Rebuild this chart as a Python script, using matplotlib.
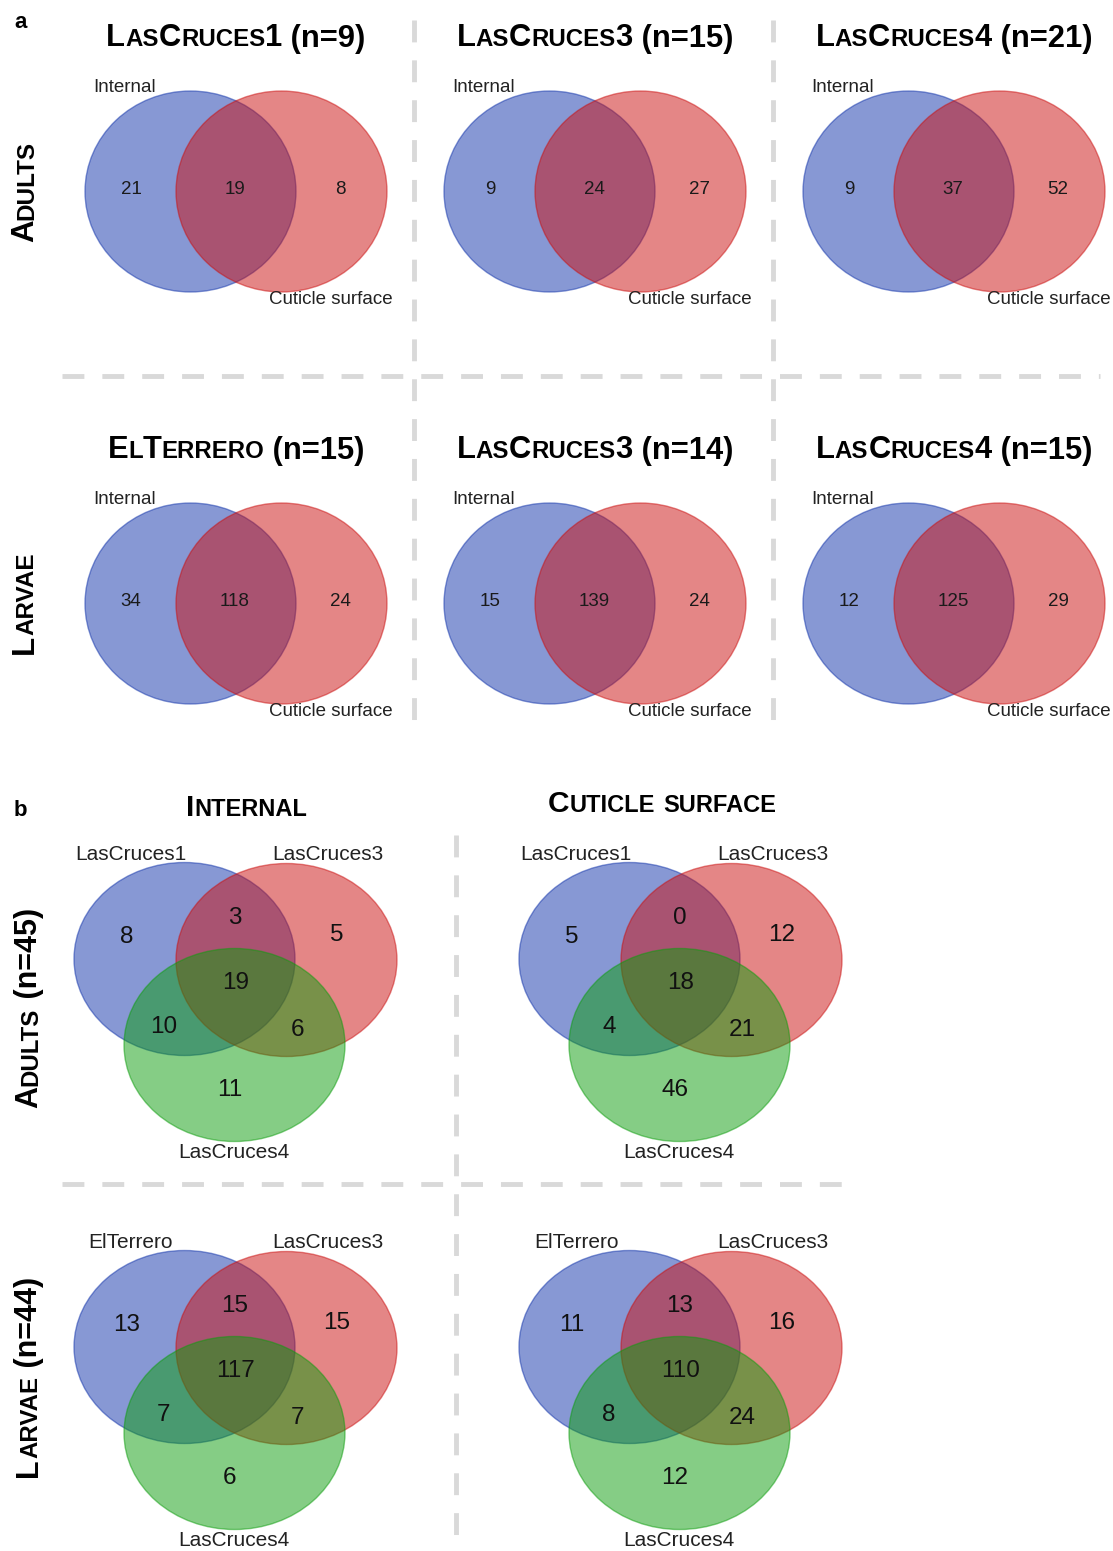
import matplotlib
matplotlib.use("Agg")
import matplotlib.pyplot as plt
from matplotlib.patches import Ellipse

W, H = 1113, 1551
FONT = ["Liberation Sans", "DejaVu Sans"]

# ---- data -------------------------------------------------------------
A_ADULT_SITES = ["LasCruces1", "LasCruces3", "LasCruces4"]
A_ADULT_N = [9, 15, 21]
A_ADULT_COUNTS = [(21, 19, 8), (9, 24, 27), (9, 37, 52)]  # internal only, both, cuticle only

A_LARVAE_SITES = ["ElTerrero", "LasCruces3", "LasCruces4"]
A_LARVAE_N = [15, 14, 15]
A_LARVAE_COUNTS = [(34, 118, 24), (15, 139, 24), (12, 125, 29)]

A_SET_LABELS = ["Internal", "Cuticle surface"]

B_COLUMNS = ["Internal", "Cuticle surface"]
B_ADULT_SETS = ["LasCruces1", "LasCruces3", "LasCruces4"]
B_LARVAE_SETS = ["ElTerrero", "LasCruces3", "LasCruces4"]
B_ADULT_N = 45
B_LARVAE_N = 44
# regions: only1, 1&2, only2, all, 1&3, 2&3, only3
B_ADULT_COUNTS = [(8, 3, 5, 19, 10, 6, 11), (5, 0, 12, 18, 4, 21, 46)]
B_LARVAE_COUNTS = [(13, 15, 15, 117, 7, 7, 6), (11, 13, 16, 110, 8, 24, 12)]

BLUE = "#1133aa"
RED = "#cb0f0f"
GREEN = "#0d9d0d"
SEP = "#d9d9d9"
LABEL = "#222222"

fig = plt.figure(figsize=(W / 100, H / 100), dpi=100)
ax = fig.add_axes([0, 0, 1, 1])
ax.set_xlim(0, W)
ax.set_ylim(H, 0)
ax.axis("off")
renderer = fig.canvas.get_renderer()


def text_width(s, size):
    t = ax.text(0, 0, s, fontsize=size, fontweight="bold", family=FONT)
    w = t.get_window_extent(renderer).width
    t.remove()
    return w


def smallcaps_runs(name, big, small):
    runs = []
    for ch in name:
        size = small if ch.islower() else big
        ch = ch.upper()
        if runs and runs[-1][1] == size:
            runs[-1][0] += ch
        else:
            runs.append([ch, size])
    return runs


def smallcaps(x, y, name, suffix, big, small, vertical=False):
    runs = smallcaps_runs(name, big, small)
    if suffix:
        runs.append([suffix, big])
    widths = [text_width(s, sz) for s, sz in runs]
    total = sum(widths)
    pos = (x - total / 2) if not vertical else (y + total / 2)
    for (s, sz), w in zip(runs, widths):
        if vertical:
            ax.text(x, pos, s, fontsize=sz, fontweight="bold", family=FONT,
                    rotation=90, rotation_mode="anchor", ha="left", va="baseline")
            pos -= w
        else:
            ax.text(pos, y, s, fontsize=sz, fontweight="bold", family=FONT,
                    ha="left", va="baseline")
            pos += w


def ellipse(cx, cy, rx, ry, color, z):
    ax.add_patch(Ellipse((cx, cy), 2 * rx, 2 * ry, facecolor=color, alpha=0.5,
                         edgecolor=color, linewidth=1.0, zorder=z))


def dashed(xs, ys):
    ax.plot(xs, ys, color=SEP, linewidth=3.5, linestyle=(0, (4.5, 3.7)),
            solid_capstyle="butt", zorder=0)


# ---- panel a: two-set venns -------------------------------------------
A_COL_X = [190.5, 549.5, 908.5]
A_ROW_Y = [191.5, 603.5]
A_RX, A_RY, A_DX = 105.5, 100.5, 91

for r, (sites, ns, counts) in enumerate([(A_ADULT_SITES, A_ADULT_N, A_ADULT_COUNTS),
                                         (A_LARVAE_SITES, A_LARVAE_N, A_LARVAE_COUNTS)]):
    cy = A_ROW_Y[r]
    for c in range(3):
        cx = A_COL_X[c]
        ellipse(cx, cy, A_RX, A_RY, BLUE, 2)
        ellipse(cx + A_DX, cy, A_RX, A_RY, RED, 3)
        smallcaps(cx + A_DX / 2, cy - 145, sites[c], f" (n={ns[c]})", 22.2, 17.3)
        for v, dx in zip(counts[c], (-59.5, 44.5, 149.5)):
            ax.text(cx + dx, cy - 2, str(v), fontsize=13.5, family=FONT, color="#1a1a1a",
                    ha="center", va="center", zorder=5)
        ax.text(cx - 65.5, cy - 104.5, A_SET_LABELS[0], fontsize=13.5, family=FONT,
                color=LABEL, ha="center", va="center", zorder=5)
        ax.text(cx + 140.5, cy + 108.5, A_SET_LABELS[1], fontsize=13.5, family=FONT,
                color=LABEL, ha="center", va="center", zorder=5)

smallcaps(33, A_ROW_Y[0], "Adults", "", 22.5, 17.5, vertical=True)
smallcaps(33, A_ROW_Y[1], "Larvae", "", 22.5, 17.5, vertical=True)
ax.text(14, 28, "a", fontsize=16, fontweight="bold", family=FONT, ha="left", va="baseline")

dashed([414, 414], [20, 732])
dashed([773, 773], [20, 732])
dashed([62, 1100], [376, 376])

# ---- panel b: three-set venns -----------------------------------------
B_COL_X = [184.5, 629.5]
B_ROW_Y = [959, 1347]
B_RX, B_RY = 110.5, 96.5
B_OFFS = [(0, 0, BLUE), (102, 1, RED), (50, 86, GREEN)]
B_NUM_POS = [(-57.5, -22), (50.5, -41), (152.5, -24), (51.5, 24),
             (-20.5, 68), (112.5, 71), (45.5, 131)]
B_LABEL_POS = [(-53.5, -105), (143.5, -105), (49.5, 193)]

for r, (sets, counts) in enumerate([(B_ADULT_SETS, B_ADULT_COUNTS),
                                    (B_LARVAE_SETS, B_LARVAE_COUNTS)]):
    cy = B_ROW_Y[r]
    for c in range(2):
        cx = B_COL_X[c]
        for z, (dx, dy, col) in enumerate(B_OFFS):
            ellipse(cx + dx, cy + dy, B_RX, B_RY, col, 2 + z)
        for v, (dx, dy) in zip(counts[c], B_NUM_POS):
            ax.text(cx + dx, cy + dy, str(v), fontsize=17.5, family=FONT, color="#111111",
                    ha="center", va="center", zorder=6)
        for s, (dx, dy) in zip(sets, B_LABEL_POS):
            ax.text(cx + dx, cy + dy, s, fontsize=15, family=FONT, color=LABEL,
                    ha="center", va="center", zorder=6)

smallcaps(247, 816, B_COLUMNS[0], "", 21.5, 17)
smallcaps(662, 812, B_COLUMNS[1], "", 21.5, 17)
smallcaps(37, 1008, "Adults", f" (n={B_ADULT_N})", 22, 17.3, vertical=True)
smallcaps(37, 1377, "Larvae", f" (n={B_LARVAE_N})", 22, 17.3, vertical=True)
ax.text(14, 816, "b", fontsize=16, fontweight="bold", family=FONT, ha="left", va="baseline")

dashed([456, 456], [835, 1548])
dashed([62, 855], [1184, 1184])

fig.savefig("out.png", dpi=100, facecolor="white")
